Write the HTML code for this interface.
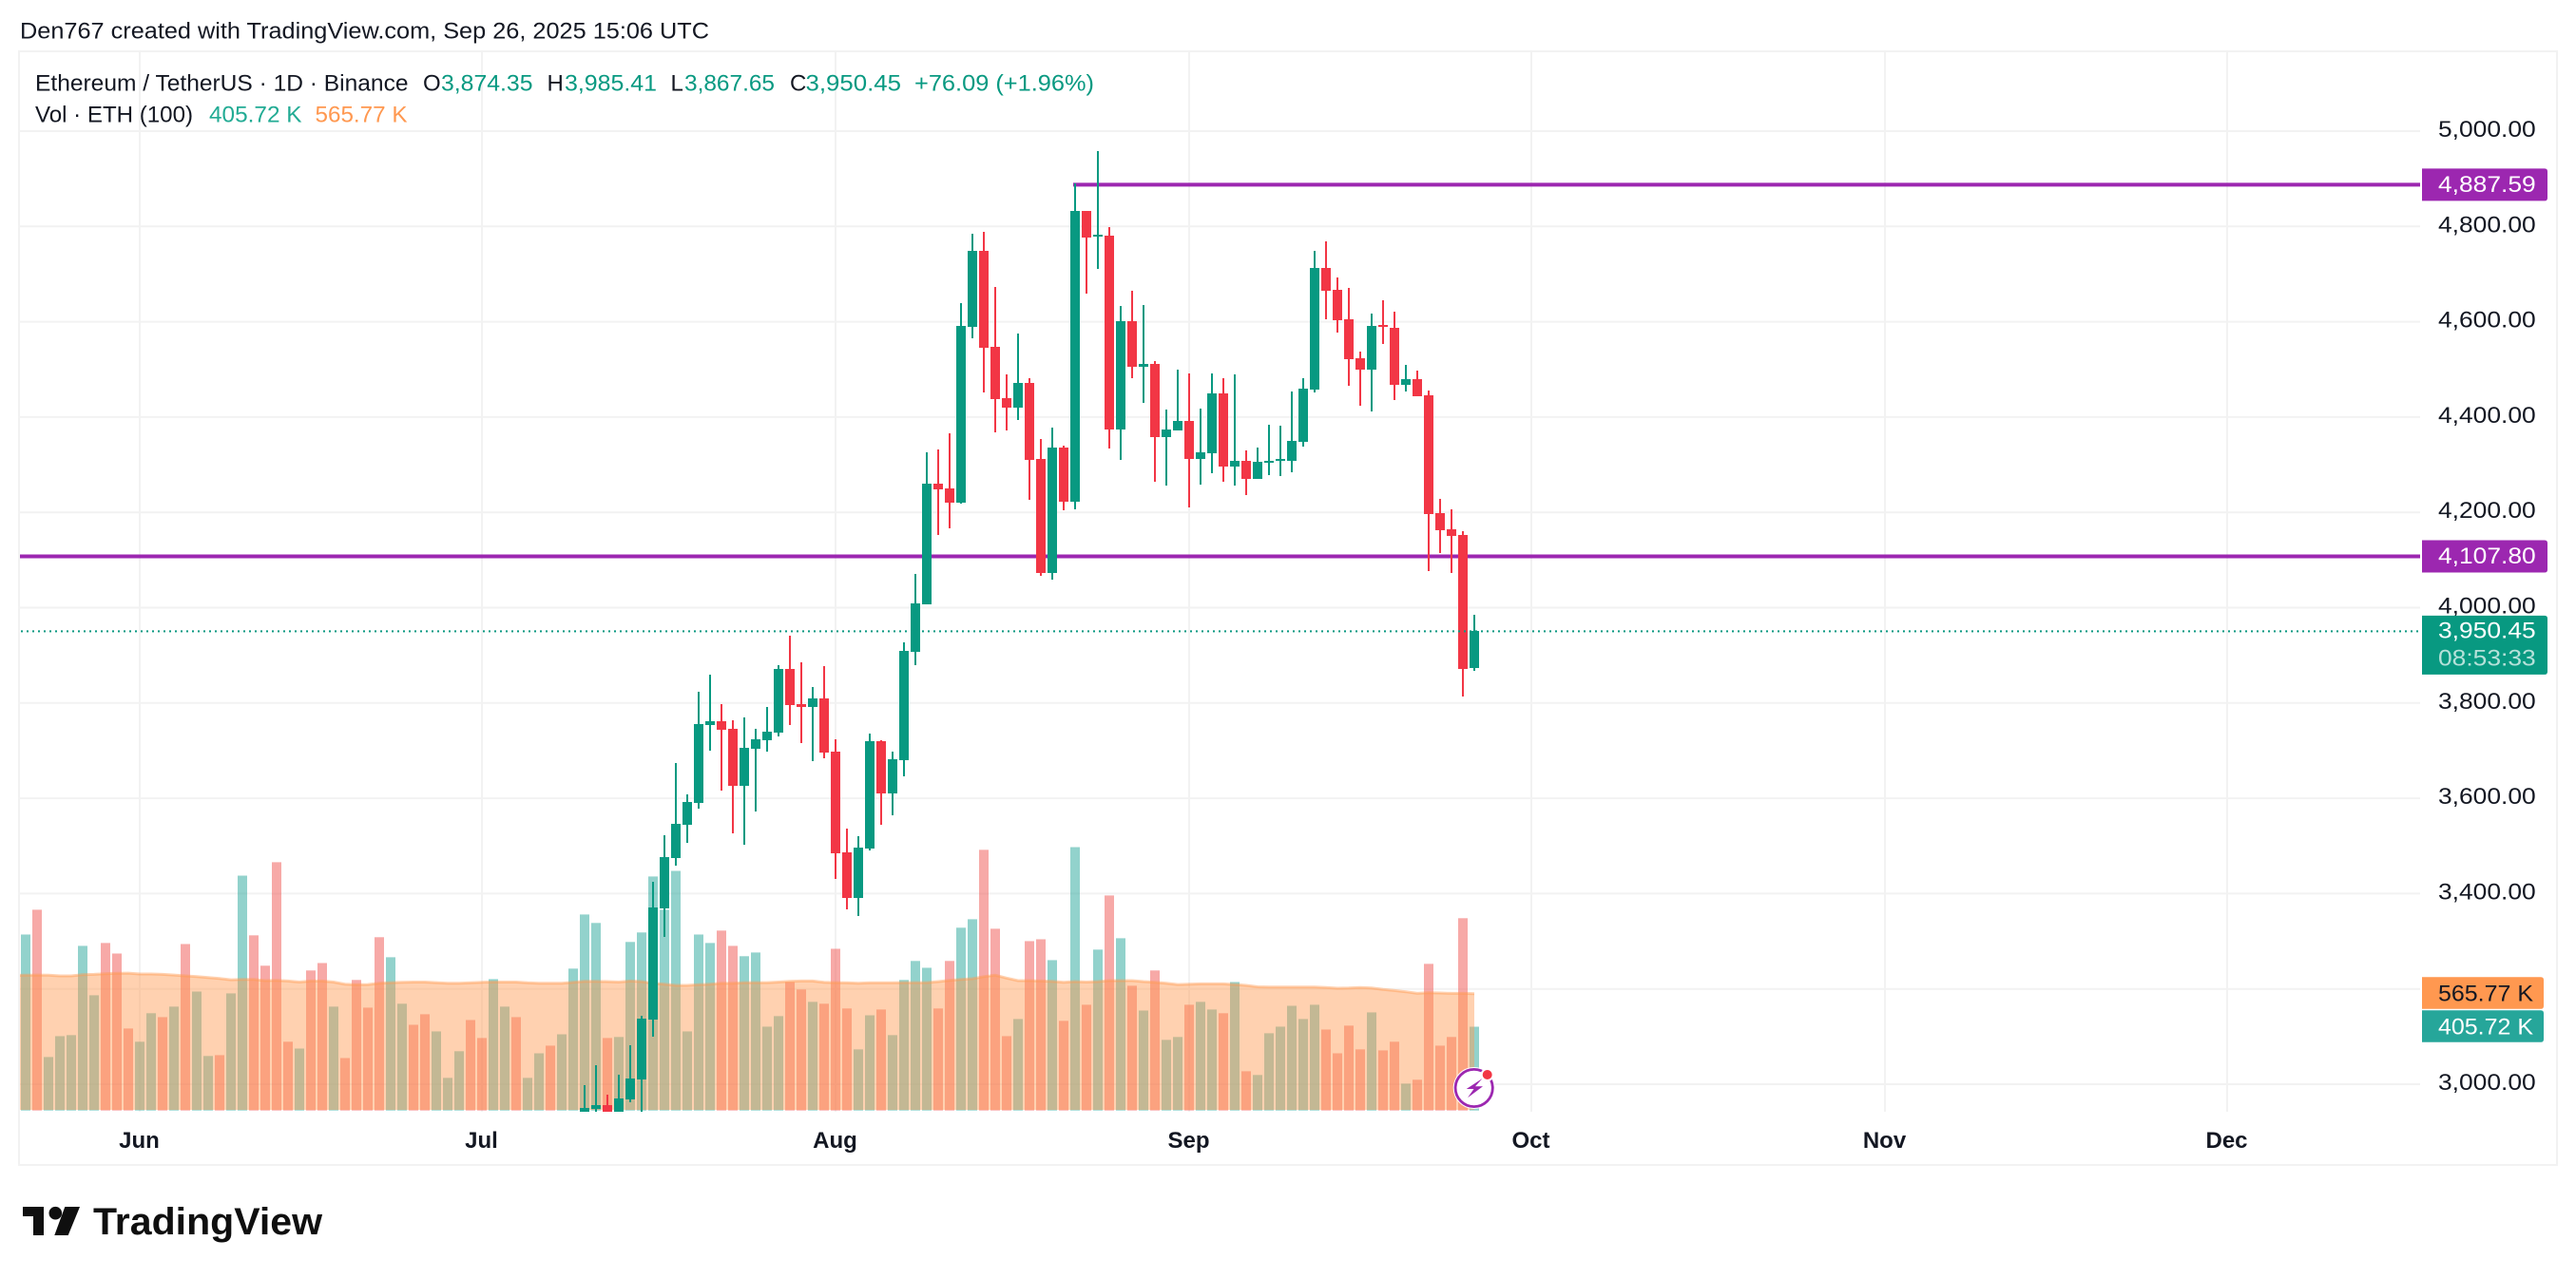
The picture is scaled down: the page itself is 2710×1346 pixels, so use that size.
<!DOCTYPE html>
<html lang="en">
<head>
<meta charset="utf-8">
<title>Ethereum / TetherUS 1D chart</title>
<style>
html,body{margin:0;padding:0;background:#fff;width:2710px;height:1346px;overflow:hidden}
svg{position:absolute;left:0;top:0;display:block}
text{font-family:"Liberation Sans",sans-serif;font-size:24px;fill:#131722}
</style>
</head>
<body>
<svg id="chart" xmlns="http://www.w3.org/2000/svg" width="2710" height="1346" viewBox="0 0 2710 1346">
  <defs>
    <clipPath id="pane"><rect x="21" y="54" width="2525" height="1116"/></clipPath>
  </defs>
  <rect x="0" y="0" width="2710" height="1346" fill="#ffffff"/>
  <text x="21" y="40.5" textLength="725" lengthAdjust="spacingAndGlyphs">Den767 created with TradingView.com, Sep 26, 2025 15:06 UTC</text>
  <rect x="20" y="54" width="2670" height="1172" fill="none" stroke="#f2f2f2" stroke-width="2"/>
  <g id="grid"></g>
  <g id="plot" clip-path="url(#pane)">
    <g id="volumes"></g>
    <g id="ma"></g>
    <g id="levels"></g>
    <g id="candles" shape-rendering="crispEdges"></g>
    <g id="priceline"></g>
  </g>
  <g id="axisLabels"></g>
  <g id="tags"></g>

  <g>
    <text x="37" y="95.5" textLength="392.5" lengthAdjust="spacingAndGlyphs">Ethereum / TetherUS · 1D · Binance</text>
    <text x="445" y="95.5">O</text>
    <text x="464" y="95.5" textLength="96.5" lengthAdjust="spacingAndGlyphs" style="fill:#089981">3,874.35</text>
    <text x="575.5" y="95.5">H</text>
    <text x="594" y="95.5" textLength="97" lengthAdjust="spacingAndGlyphs" style="fill:#089981">3,985.41</text>
    <text x="705.5" y="95.5">L</text>
    <text x="720" y="95.5" textLength="95" lengthAdjust="spacingAndGlyphs" style="fill:#089981">3,867.65</text>
    <text x="831" y="95.5">C</text>
    <text x="847.5" y="95.5" textLength="100.5" lengthAdjust="spacingAndGlyphs" style="fill:#089981">3,950.45</text>
    <text x="962" y="95.5" textLength="189" lengthAdjust="spacingAndGlyphs" style="fill:#089981">+76.09 (+1.96%)</text>
    <text x="37" y="128.5" textLength="166" lengthAdjust="spacingAndGlyphs">Vol · ETH (100)</text>
    <text x="220" y="128.5" textLength="97.5" lengthAdjust="spacingAndGlyphs" style="fill:#22ab94">405.72 K</text>
    <text x="331.5" y="128.5" textLength="97" lengthAdjust="spacingAndGlyphs" style="fill:#ff9850">565.77 K</text>
  </g>

  <g>
    <path d="M24 1270H46V1300H35V1280H24Z" fill="#0f0f0f"/>
    <circle cx="58.3" cy="1276.7" r="6.8" fill="#0f0f0f"/>
    <path d="M68.3 1270H84L71.7 1300H57.3Z" fill="#0f0f0f"/>
    <text x="98" y="1299" textLength="241" lengthAdjust="spacingAndGlyphs" style="font-size:40px;font-weight:700;fill:#0f0f0f">TradingView</text>
  </g>

  <g>
    <circle cx="1550.7" cy="1145" r="22" fill="#ffffff"/>
    <circle cx="1550.7" cy="1145" r="19.6" fill="#ffffff" stroke="#9c27b0" stroke-width="2.8"/>
    <path d="M1559.5 1135L1542.7 1146H1550.5L1544 1155.3L1560 1143.3H1552Z" fill="#9c27b0"/>
    <circle cx="1564.7" cy="1131" r="7" fill="#ffffff"/>
    <circle cx="1564.7" cy="1131" r="5" fill="#f23645"/>
  </g>
</svg>

<script>
// ---- chart data ----
const priceTicks = [5000,4800,4600,4400,4200,4000,3800,3600,3400,3200,3000];
const monthLabels = ['Jun','Jul','Aug','Sep','Oct','Nov','Dec'];
const monthDayIndex = [10,40,71,102,132,163,193];
const candleFirstDay = 49;
const opens = [2930,2948,2956,2930,2968,3010,3135,3369,3474,3544,3590,3754,3762,3746,3626,3704,3722,3738,3871,3797,3791,3809,3698,3486,3391,3494,3720,3610,3680,3907,4007,4260,4250,4220,4589,4749,4547,4440,4420,4471,4312,4073,4336,4222,4833,4779,4781,4374,4601,4505,4511,4358,4372,4392,4312,4324,4449,4296,4308,4270,4304,4308,4308,4348,4457,4713,4667,4605,4523,4499,4593,4587,4467,4479,4445,4198,4164,4152,3874.35];
const highs = [2998,3040,2978,3020,3082,3143,3425,3522,3674,3608,3823,3860,3797,3764,3770,3746,3791,3879,3941,3885,3833,3877,3724,3536,3520,3736,3722,3698,3927,4071,4326,4332,4366,4639,4785,4789,4673,4489,4575,4481,4354,4378,4340,4890,4833,4958,4799,4633,4665,4635,4517,4416,4499,4491,4418,4491,4481,4489,4330,4336,4384,4382,4453,4481,4749,4769,4693,4671,4537,4617,4645,4621,4509,4497,4455,4228,4206,4160,3985.41];
const lows = [2900,2930,2900,2910,2962,2930,3100,3309,3458,3506,3578,3700,3616,3526,3502,3572,3698,3730,3754,3716,3678,3684,3431,3367,3353,3490,3544,3564,3646,3879,4007,4152,4166,4218,4565,4451,4368,4372,4394,4226,4067,4059,4204,4206,4659,4711,4334,4310,4481,4430,4264,4256,4372,4210,4258,4282,4264,4256,4236,4270,4278,4276,4284,4338,4451,4605,4577,4465,4424,4412,4553,4436,4453,4443,4077,4114,4073,3813,3867.65];
const closes = [2950,2956,2930,2970,3012,3137,3371,3476,3546,3592,3756,3762,3744,3626,3706,3724,3740,3871,3795,3791,3809,3696,3484,3391,3496,3720,3610,3682,3909,4009,4260,4248,4220,4591,4749,4545,4438,4420,4471,4310,4073,4336,4222,4833,4777,4783,4374,4601,4505,4511,4358,4374,4392,4312,4326,4449,4296,4308,4270,4306,4308,4312,4350,4459,4713,4665,4603,4521,4499,4591,4589,4467,4479,4443,4196,4162,4150,3871,3950.45];
const volumesK = [852,972,259,360,365,797,558,811,760,397,333,471,452,503,806,576,264,268,567,1137,848,701,1202,333,300,678,714,503,254,632,498,839,742,517,415,466,383,158,287,438,351,636,503,452,158,277,314,369,687,949,908,351,356,816,862,1133,972,1160,383,852,811,871,797,747,765,406,457,622,586,526,517,783,494,296,461,489,365,632,724,691,494,724,885,926,1262,880,360,443,820,829,728,434,1275,512,779,1041,834,604,484,678,342,356,512,526,489,471,622,190,172,374,406,507,443,512,392,277,411,296,475,291,333,130,149,710,314,356,931,405.72];
const volumeUp = [1,0,1,1,1,1,1,0,0,0,1,1,0,1,0,1,1,0,1,1,0,0,0,0,1,0,0,1,0,0,0,0,1,1,0,0,1,1,1,0,0,1,1,0,1,1,0,1,1,1,1,0,1,1,1,1,1,1,1,1,1,0,0,1,1,1,1,0,0,1,0,0,0,1,1,0,1,1,1,1,0,0,1,1,0,0,0,1,0,0,1,0,1,0,1,0,1,0,1,0,1,1,0,1,1,0,1,0,1,1,1,1,1,1,0,0,0,0,1,0,0,1,0,0,0,0,0,1];
const volumeMaK = [654,655,656,655,652,652,658,659,662,664,665,661,661,659,656,652,648,644,639,633,635,635,629,630,627,622,627,627,622,612,609,610,616,619,621,622,622,619,616,616,618,621,622,622,622,618,616,616,616,621,625,625,624,622,627,624,616,612,606,606,609,612,616,616,619,619,619,622,625,627,627,621,619,618,616,618,618,618,619,619,619,624,630,635,638,648,655,641,629,629,627,625,621,624,622,624,629,629,629,624,621,616,610,612,613,613,613,610,606,599,598,598,598,598,598,595,592,593,595,593,586,581,575,567,570,569,567,567,565.77];
const levelPrices = [4887.59,4107.80];
const levelStartDays = [92,null];
const lastPrice = 3950.45;
const countdownText = '08:53:33';
const volumeTagValues = [565.77,405.72];
const volumeTagTexts = ['565.77 K','405.72 K'];

// ---- axis functions ----
const NS = 'http://www.w3.org/2000/svg';
const paneLeft = 21, paneRight = 2546, paneTop = 54, paneBottom = 1170;
const volumeBase = 1168.7;
function xOf(day){ return 27 + 12 * day; }
function yOfPrice(p){ return 138 + (5000 - p) * 0.5015; }
function yOfVolume(k){ return volumeBase - k * 0.2174; }
function fmt(p){ return p.toLocaleString('en-US',{minimumFractionDigits:2,maximumFractionDigits:2}); }
function make(parent, tag, attrs, txt){
  const e = document.createElementNS(NS, tag);
  for (const k in attrs) e.setAttribute(k, attrs[k]);
  if (txt !== undefined) e.textContent = txt;
  parent.appendChild(e);
  return e;
}
function tagPath(x0,x1,y0,y1,r){
  return 'M'+x0+' '+y0+'H'+(x1-r)+'Q'+x1+' '+y0+' '+x1+' '+(y0+r)+'V'+(y1-r)+'Q'+x1+' '+y1+' '+(x1-r)+' '+y1+'H'+x0+'Z';
}
const gridG = document.getElementById('grid');
const volG = document.getElementById('volumes');
const maG = document.getElementById('ma');
const levG = document.getElementById('levels');
const canG = document.getElementById('candles');
const plG = document.getElementById('priceline');
const axG = document.getElementById('axisLabels');
const tagG = document.getElementById('tags');

// grid + axis labels
priceTicks.forEach(function(p){
  const g = make(gridG,'line',{x1:20,x2:paneRight,y1:yOfPrice(p),y2:yOfPrice(p),stroke:'#f2f2f2','stroke-width':2});
  
  
  const t = make(axG,'text',{x:2565,y:yOfPrice(p)+6,textLength:102.7,lengthAdjust:'spacingAndGlyphs'},fmt(p));
  
  
});
monthLabels.forEach(function(m,i){
  const x = xOf(monthDayIndex[i]);
  const g = make(gridG,'line',{x1:x,x2:x,y1:paneTop,y2:paneBottom,stroke:'#f2f2f2','stroke-width':2});
  
  
  const t = make(axG,'text',{x:x-0.5,y:1208,'text-anchor':'middle',style:'font-weight:700'},m);
  
  
});

// volume bars
volumesK.forEach(function(k,i){
  const top = yOfVolume(k);
  const r = make(volG,'rect',{x:xOf(i)-5,y:top,width:10,height:volumeBase-top,fill:volumeUp[i]?'#26a69a':'#ef5350','fill-opacity':0.5});
  
  
});

// volume moving average (first entry is the day before the visible range)
let lineD = '';
volumeMaK.forEach(function(k,i){
  lineD += (i ? 'L' : 'M') + xOf(i-1) + ' ' + yOfVolume(k).toFixed(1);
});
const lastMaX = xOf(volumeMaK.length-2), firstMaX = xOf(-1);
const maArea = make(maG,'path',{d:lineD+'L'+lastMaX+' 1168L'+firstMaX+' 1168Z',fill:'#ff9850','fill-opacity':0.45});


const maLine = make(maG,'path',{d:lineD,fill:'none',stroke:'#ff9850','stroke-opacity':0.45,'stroke-width':3});



// horizontal levels
levelPrices.forEach(function(p,i){
  const y = yOfPrice(p);
  const startX = levelStartDays[i]===null ? paneLeft : xOf(levelStartDays[i])-2;
  const l = make(levG,'line',{x1:startX,x2:paneRight,y1:y,y2:y,stroke:'#9c27b0','stroke-width':4});
  
  
  const bg = make(tagG,'path',{d:tagPath(2548,2680,y-17,y+17,3),fill:'#9c27b0'});
  
  
  const t = make(tagG,'text',{x:2565,y:y+7.5,textLength:102.7,lengthAdjust:'spacingAndGlyphs',style:'fill:#ffffff'},fmt(p));
  
  
});

// candlesticks
opens.forEach(function(o,i){
  const day = candleFirstDay + i, c = closes[i], h = highs[i], l = lows[i];
  const col = c >= o ? '#089981' : '#f23645';
  const x = xOf(day);
  const w = make(canG,'rect',{x:x-1,y:Math.round(yOfPrice(h)),width:2,height:Math.max(1,Math.round(yOfPrice(l))-Math.round(yOfPrice(h))),fill:col});
  
  
  const top = Math.round(yOfPrice(Math.max(o,c)));
  const bot = Math.round(yOfPrice(Math.min(o,c)));
  const b = make(canG,'rect',{x:x-5,y:top,width:10,height:Math.max(2,bot-top),fill:col});
  
  
});

// last price line and tag
const lastY = yOfPrice(lastPrice);
const pl = make(plG,'line',{x1:22,x2:2544,y1:lastY,y2:lastY,stroke:'#089981','stroke-width':2,'stroke-dasharray':'2 4'});


const lastBg = make(tagG,'path',{d:tagPath(2548,2680,lastY-16.5,lastY+45.5,3),fill:'#089981'});


const lastT = make(tagG,'text',{x:2565,y:lastY+7,textLength:102.7,lengthAdjust:'spacingAndGlyphs',style:'fill:#ffffff'},fmt(lastPrice));


const cdT = make(tagG,'text',{x:2565,y:lastY+36,textLength:102.7,lengthAdjust:'spacingAndGlyphs',style:'fill:#ffffff;fill-opacity:.7'},countdownText);



// volume tags
const volTagFills = ['#ff9850','#26a69a'];
const volTagText = ['#131722','#ffffff'];
volumeTagValues.forEach(function(k,i){
  const y = i === 0 ? 1045 : 1080;
  const bg = make(tagG,'path',{d:tagPath(2548,2676,y-16.8,y+16.8,3),fill:volTagFills[i]});
  
  
  const t = make(tagG,'text',{x:2565,y:y+8.5,textLength:100,lengthAdjust:'spacingAndGlyphs',style:'fill:'+volTagText[i]},volumeTagTexts[i]);
  
  
});
</script>
</body>
</html>
